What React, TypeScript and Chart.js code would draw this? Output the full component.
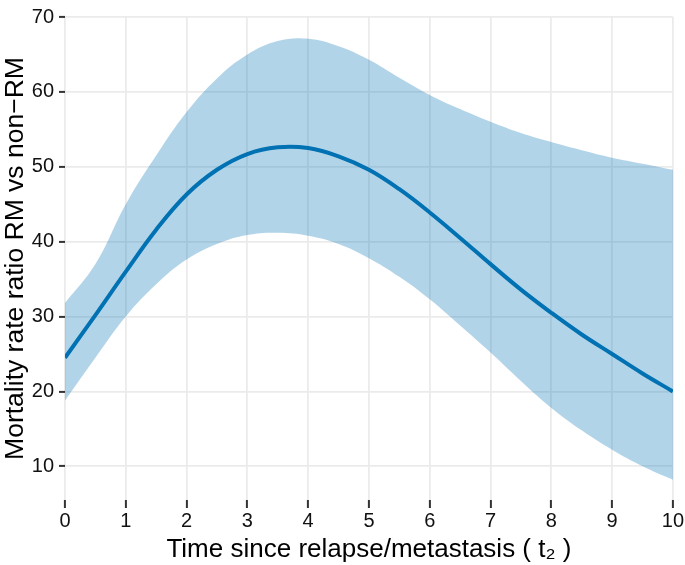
import React, { useEffect, useRef } from "react";
import { Chart, registerables } from "chart.js";

Chart.register(...registerables);

const timeValues = [0, 0.5, 1, 1.5, 2, 2.5, 3, 3.5, 4, 4.5, 5, 5.5, 6, 6.5, 7, 7.5, 8, 8.5, 9, 9.5, 10];
const ratioMean = [24.5, 30.2, 36.0, 41.6, 46.3, 49.6, 51.7, 52.6, 52.5, 51.4, 49.6, 47.0, 43.9, 40.5, 37.0, 33.6, 30.5, 27.6, 25.0, 22.4, 20.0];
const ratioUpper = [31.8, 37.0, 45.0, 51.5, 57.3, 61.8, 65.0, 66.8, 67.1, 66.1, 64.3, 61.9, 59.6, 57.7, 56.0, 54.5, 53.3, 52.2, 51.2, 50.4, 49.6];
const ratioLower = [18.8, 24.5, 30.0, 34.3, 37.6, 39.7, 40.9, 41.2, 40.8, 39.7, 37.8, 35.3, 32.3, 28.8, 25.2, 21.4, 17.8, 14.8, 12.2, 10.0, 8.2];
const xTicks = [0, 1, 2, 3, 4, 5, 6, 7, 8, 9, 10];
const yTicks = [10, 20, 30, 40, 50, 60, 70];
const xTitle = "Time since relapse/metastasis ( t\u2082 )";
const yTitle = "Mortality rate ratio RM vs non\u2212RM";

const toPoints = (ys: number[]) => timeValues.map((x, i) => ({ x, y: ys[i] }));

export default function App() {
  const ref = useRef<HTMLCanvasElement | null>(null);

  useEffect(() => {
    document.body.style.margin = "0";
    const canvas = ref.current;
    if (!canvas) return;
    const font = "'Liberation Sans', Arial, Helvetica, sans-serif";
    const chart = new Chart(canvas, {
      type: "line",
      data: {
        datasets: [
          {
            data: toPoints(ratioLower),
            borderWidth: 0,
            pointRadius: 0,
            fill: false,
            tension: 0.4,
            borderColor: "rgba(0,0,0,0)",
          },
          {
            data: toPoints(ratioUpper),
            borderWidth: 0,
            pointRadius: 0,
            fill: "-1",
            backgroundColor: "rgba(0,114,178,0.3)",
            tension: 0.4,
            borderColor: "rgba(0,0,0,0)",
          },
          {
            data: toPoints(ratioMean),
            borderWidth: 4,
            pointRadius: 0,
            fill: false,
            borderColor: "#0072B2",
            tension: 0.4,
          },
        ],
      },
      options: {
        animation: false,
        responsive: false,
        maintainAspectRatio: false,
        layout: { padding: { top: 7, right: 12, left: 0, bottom: 0 } },
        plugins: { legend: { display: false }, tooltip: { enabled: false } },
        scales: {
          x: {
            type: "linear",
            min: 0,
            max: 10,
            afterBuildTicks: (s: any) => {
              s.ticks = xTicks.map((v) => ({ value: v }));
            },
            afterFit: (s: any) => {
              s.height = 65;
            },
            border: { display: false },
            grid: {
              color: "#ebebeb",
              lineWidth: 1.8,
              drawTicks: true,
              tickLength: 8,
              tickColor: "#333333",
              tickWidth: 2,
            },
            ticks: {
              color: "#111",
              font: { family: font, size: 20 },
              padding: 1,
              maxRotation: 0,
            },
            title: {
              display: true,
              text: xTitle,
              color: "#000",
              font: { family: font, size: 26 },
              padding: { top: 0, bottom: 0 },
            },
          },
          y: {
            type: "linear",
            min: 5.5,
            max: 70,
            afterBuildTicks: (s: any) => {
              s.ticks = yTicks.map((v) => ({ value: v }));
            },
            afterFit: (s: any) => {
              s.width = 65;
            },
            border: { display: false },
            grid: {
              color: "#ebebeb",
              lineWidth: 1.8,
              drawTicks: true,
              tickLength: 6,
              tickColor: "#333333",
              tickWidth: 2,
            },
            ticks: {
              color: "#111",
              font: { family: font, size: 20 },
              padding: 5,
            },
            title: {
              display: true,
              text: yTitle,
              color: "#000",
              font: { family: font, size: 26.5 },
              padding: { top: 0, bottom: 0 },
            },
          },
        },
      },
    });
    return () => chart.destroy();
  }, []);

  return <canvas ref={ref} width={685} height={565} style={{ display: "block" }} />;
}
